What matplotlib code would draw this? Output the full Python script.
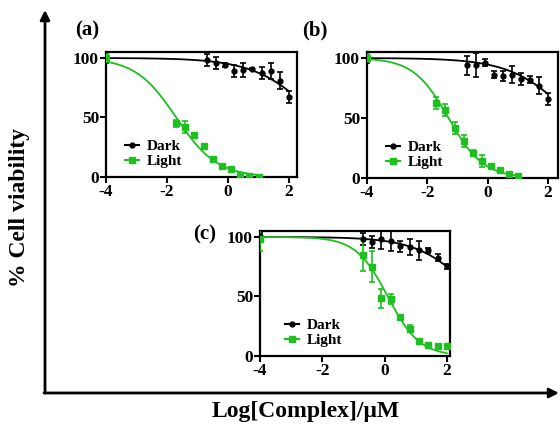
import numpy as np
import matplotlib
matplotlib.use("Agg")
import matplotlib.pyplot as plt

plt.rcParams['font.family'] = ['Liberation Serif', 'DejaVu Serif']
plt.rcParams['font.weight'] = 'bold'

# ---------------- data ----------------
x_dark = [-4, -0.7, -0.4, -0.1, 0.2, 0.5, 0.8, 1.1, 1.4, 1.7, 2.0]
x_light_ab = [-4, -1.7, -1.4, -1.1, -0.8, -0.5, -0.2, 0.1, 0.4, 0.7, 1.0]
x_light_c = [-4, -0.7, -0.4, -0.1, 0.2, 0.5, 0.8, 1.1, 1.4, 1.7, 2.0]

a_dark = [100, 98.6, 96, 94, 89, 90, 90.5, 87, 89, 81, 67]
a_dark_err = [4, 5, 5, 2, 5, 6, 1, 5, 7, 7, 5]
a_light = [100, 45, 42, 35, 26, 15, 9, 7, 2, 1, 0]
a_light_err = [3, 3, 5, 2, 2, 2, 2, 1, 1, 1, 1]

b_dark = [99, 94, 94.5, 96, 86, 85, 86, 82.5, 82, 77, 66]
b_dark_err = [3, 8, 10, 3, 3, 4, 7, 5, 3, 7, 5]
b_light = [100, 62.5, 57, 42, 31, 21, 14.5, 10, 7, 3.6, 1.4]
b_light_err = [3, 5, 5, 5, 5, 2, 5, 1, 1, 1, 1]

c_dark = [101, 98, 96, 98, 96.6, 92, 91.5, 89, 88.7, 82.5, 75.4]
c_dark_err = [2, 5, 5, 8, 8, 5, 7, 8, 2, 3, 2]
c_light = [98, 85, 75, 48.6, 48, 32.5, 23, 12.4, 9, 8.5, 8.2]
c_light_err = [10, 14, 13, 8, 4, 2, 3, 1, 1, 1, 1]

# sigmoid fit parameters (logIC50, hill slope)
fit_a_dark = (2.94, 0.435)
fit_a_light = (-1.7, 0.65)
fit_b_dark = (2.84, 0.435)
fit_b_light = (-1.3, 0.75)
fit_c_dark = (2.97, 0.49)
fit_c_light = (0.1, 0.85)

xticks = [-4, -2, 0, 2]
yticks = [0, 50, 100]

GREEN = '#1fbf1f'
W, H = 560, 425

def curve(x, p):
    c, h = p
    return 100.0 / (1 + 10 ** ((x - c) * h))

fig = plt.figure(figsize=(W / 100, H / 100), dpi=100)

# background axes for big arrows and labels
bg = fig.add_axes([0, 0, 1, 1])
bg.set_xlim(0, W)
bg.set_ylim(H, 0)
bg.axis('off')
bg.annotate('', xy=(45, 10), xytext=(45, 393),
            arrowprops=dict(arrowstyle='-|>', lw=2, color='black',
                            mutation_scale=14, shrinkA=0, shrinkB=0))
bg.annotate('', xy=(559, 393), xytext=(44, 393),
            arrowprops=dict(arrowstyle='-|>', lw=2, color='black',
                            mutation_scale=14, shrinkA=0, shrinkB=0))
bg.text(20, 207, '% Cell viability', rotation=90, ha='center', va='center',
        fontsize=17, fontweight='bold')
bg.text(306, 411, 'Log[Complex]/μM', ha='center', va='center',
        fontsize=17, fontweight='bold')


def panel(rect_px, xlim, dark, dark_err, xl, light, light_err,
          fd, fl, xl_end, leg_x):
    l, t, r, b = rect_px
    ax = fig.add_axes([l / W, 1 - b / H, (r - l) / W, (b - t) / H])
    xd = np.linspace(-4, 2, 200)
    xll = np.linspace(-4, xl_end, 200)
    ax.plot(xd, curve(xd, fd), color='black', lw=1.3, zorder=2)
    ax.plot(xll, curve(xll, fl), color=GREEN, lw=1.3, zorder=2)
    ax.errorbar(x_dark, dark, yerr=dark_err, fmt='o', color='black',
                ms=3.5, capsize=2.5, elinewidth=1.2, capthick=1.2, zorder=3)
    ax.errorbar(xl, light, yerr=light_err, fmt='s', color=GREEN,
                ms=4, capsize=2.5, elinewidth=1.2, capthick=1.2, zorder=3)
    ax.plot([], [], '-o', color='black', ms=3.5, lw=1.5, label='Dark')
    ax.plot([], [], '-s', color=GREEN, ms=4, lw=1.5, label='Light')
    ax.set_xlim(*xlim)
    ax.set_ylim(0, 105)
    ax.set_xticks(xticks)
    ax.set_yticks(yticks)
    ax.set_xticklabels([str(v) for v in xticks])
    for s in ax.spines.values():
        s.set_linewidth(1.6)
    ax.tick_params(direction='out', length=4, width=1.5, labelsize=12.5, pad=1)
    for lab in ax.get_xticklabels() + ax.get_yticklabels():
        lab.set_fontweight('bold')
    ax.legend(loc='lower left', bbox_to_anchor=(leg_x, 0.02), frameon=False,
              handlelength=0.9, handletextpad=0.5, labelspacing=0.1,
              borderaxespad=0, prop={'weight': 'bold', 'size': 11})
    return ax

panel((106, 52, 297, 177), (-4, 2.26), a_dark, a_dark_err, x_light_ab,
      a_light, a_light_err, fit_a_dark, fit_a_light, 1.0, 0.07)
panel((367, 52, 558, 178), (-4, 2.33), b_dark, b_dark_err, x_light_ab,
      b_light, b_light_err, fit_b_dark, fit_b_light, 1.0, 0.07)
panel((260, 231, 450, 356), (-4, 2.1), c_dark, c_dark_err, x_light_c,
      c_light, c_light_err, fit_c_dark, fit_c_light, 2.0, 0.10)

bg.text(87, 30, '(a)', ha='center', va='center', fontsize=15, fontweight='bold')
bg.text(315, 30, '(b)', ha='center', va='center', fontsize=15, fontweight='bold')
bg.text(205, 234, '(c)', ha='center', va='center', fontsize=15, fontweight='bold')

fig.savefig('out.png', dpi=100)
